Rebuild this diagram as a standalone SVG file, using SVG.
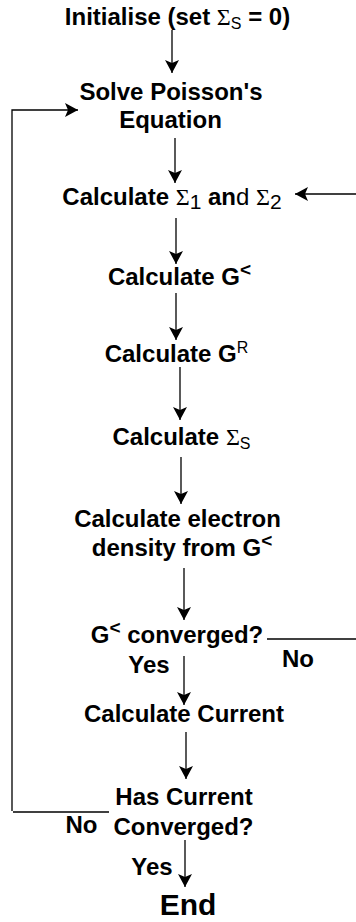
<svg xmlns="http://www.w3.org/2000/svg" width="356" height="922" viewBox="0 0 356 922">
<defs>
<marker id="ah" markerUnits="userSpaceOnUse" markerWidth="16" markerHeight="16" viewBox="-14 -8 16 16" refX="0" refY="0" orient="auto">
<path d="M0,0 L-13,-7 L-10,0 L-13,7 Z" fill="#000"/>
</marker>
<style>
.t{font-family:"Liberation Sans",Arial,sans-serif;font-weight:bold;font-size:24px;fill:#000;text-anchor:middle}
.g{font-family:"Liberation Serif","Times New Roman",serif;font-weight:normal}
.r{font-weight:normal}
.n{font-size:21px;font-weight:normal}
.s{font-size:16px;font-weight:normal}
.lt{font-size:19px}
.e{font-size:30px}
.c{fill:none;stroke:#000;stroke-width:1.3}
.a{fill:none;stroke:#000;stroke-width:1.3;marker-end:url(#ah)}
</style>
</defs>
<rect width="356" height="922" fill="#fff"/>
<g id="connectors">
<line class="a" x1="172" y1="30" x2="172" y2="73"/>
<polyline class="a" points="12,811 12,110 78,110"/>
<line class="c" x1="13" y1="812" x2="109" y2="812"/>
<line class="a" x1="175" y1="138" x2="175" y2="183"/>
<line class="a" x1="356" y1="194" x2="295" y2="194"/>
<line class="a" x1="176" y1="218" x2="176" y2="264"/>
<line class="a" x1="176" y1="293" x2="176" y2="340"/>
<line class="a" x1="180" y1="367" x2="180" y2="420"/>
<line class="a" x1="181" y1="457" x2="181" y2="504"/>
<line class="a" x1="184" y1="568" x2="184" y2="620"/>
<line class="c" x1="267" y1="639" x2="356" y2="639"/>
<line class="a" x1="184" y1="656" x2="184" y2="705"/>
<line class="a" x1="186" y1="732" x2="186" y2="779"/>
<line class="a" x1="185" y1="840" x2="185" y2="887"/>
</g>
<g id="init"><text class="t" x="177.5" y="25">Initialise (set <tspan class="g">Σ</tspan><tspan class="s" dy="4">S</tspan><tspan dy="-4"> = 0)</tspan></text></g>
<g id="poisson"><text class="t" x="171" y="100">Solve Poisson's</text><text class="t" x="170.5" y="128">Equation</text></g>
<g id="sigma12"><text class="t" x="172" y="205">Calculate <tspan class="g">Σ</tspan><tspan class="n" dy="4">1</tspan><tspan dy="-4"> an</tspan><tspan class="r">d </tspan><tspan class="g">Σ</tspan><tspan class="n" dy="4">2</tspan></text></g>
<g id="glesser"><text class="t" x="179.5" y="285">Calculate G<tspan class="lt" dy="-9">&lt;</tspan></text></g>
<g id="gr"><text class="t" x="176.5" y="362">Calculate G<tspan class="s" dy="-9">R</tspan></text></g>
<g id="sigmas"><text class="t" x="181.5" y="445">Calculate <tspan class="g">Σ</tspan><tspan class="s" dy="4">S</tspan></text></g>
<g id="density"><text class="t" x="177.5" y="527">Calculate electron</text><text class="t" x="182" y="556">density from G<tspan class="lt" dy="-9">&lt;</tspan></text></g>
<g id="gconv"><text class="t" x="177" y="643">G<tspan class="lt" dy="-9">&lt;</tspan><tspan dy="9">  converged?</tspan></text><text class="t" x="298" y="667">No</text><text class="t" x="149" y="673">Yes</text></g>
<g id="current"><text class="t" x="184" y="722">Calculate Current</text></g>
<g id="iconv"><text class="t" x="184" y="805">Has Current</text><text class="t" x="183.5" y="835">Converged?</text><text class="t" x="81.5" y="833">No</text><text class="t" x="152" y="875">Yes</text></g>
<g id="end"><text class="t e" x="188" y="915">End</text></g>
</svg>
